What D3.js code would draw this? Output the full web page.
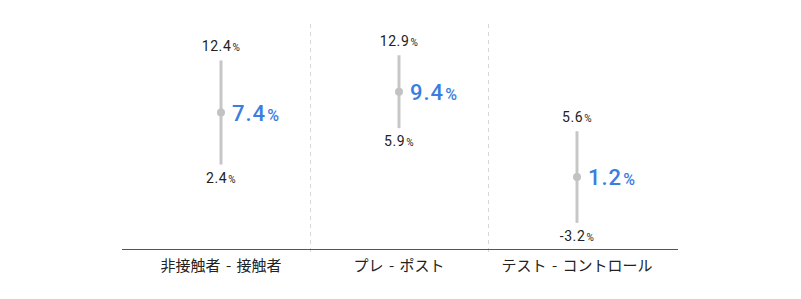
<!DOCTYPE html>
<html>
<head>
<meta charset="utf-8">
<script src="https://cdn.jsdelivr.net/npm/d3@7"></script>
<style>
  body { margin: 0; background: #fff; }
  text { font-family: Roboto, "Noto Sans", sans-serif; }
</style>
</head>
<body>
<div class="container"></div>
<script>
var categories = ['非接触者 - 接触者', 'プレ - ポスト', 'テスト - コントロール'];
var highs = [12.4, 12.9, 5.6];
var mids = [7.4, 9.4, 1.2];
var lows = [2.4, 5.9, -3.2];

var data = categories.map(function(c, i) {
  return { cat: c, high: highs[i], mid: mids[i], low: lows[i] };
});

var w = 801;
var h = 299;

var svg = d3.select('.container')
  .append('svg')
  .attr('width', w)
  .attr('height', h);

var xScale = d3.scaleBand()
  .domain(categories)
  .range([132, 666]);

var yScale = d3.scaleLinear()
  .domain([-6, 16])
  .range([252, 23]);

var axisY = 249;

/* dashed dividers between categories */
svg.selectAll('.divider')
  .data(categories.slice(1))
  .enter()
  .append('line')
  .attr('x1', function(d) { return Math.round(xScale(d)) + 0.5; })
  .attr('x2', function(d) { return Math.round(xScale(d)) + 0.5; })
  .attr('y1', 24)
  .attr('y2', 256)
  .attr('stroke', '#d8d8d8')
  .attr('stroke-dasharray', '4,4');

/* bottom axis */
var xAxis = d3.axisBottom(xScale).tickSize(0).tickPadding(11);
var ax = svg.append('g')
  .attr('transform', 'translate(0,' + axisY + ')')
  .call(xAxis);
ax.select('.domain').remove();
ax.selectAll('text')
  .style('font-family', '"Noto Sans CJK JP", sans-serif')
  .style('font-size', '15px')
  .style('word-spacing', '2px')
  .attr('fill', '#222');
svg.append('line')
  .attr('x1', 122).attr('x2', 678)
  .attr('y1', axisY + 0.5).attr('y2', axisY + 0.5)
  .attr('stroke', '#555');

var group = svg.selectAll('.item')
  .data(data)
  .enter()
  .append('g')
  .attr('transform', function(d) {
    return 'translate(' + (xScale(d.cat) + xScale.bandwidth() / 2) + ',0)';
  });

group.append('line')
  .attr('x1', 0).attr('x2', 0)
  .attr('y1', function(d) { return yScale(d.high); })
  .attr('y2', function(d) { return yScale(d.low); })
  .attr('stroke', '#c6c6c6')
  .attr('stroke-width', 3);

group.append('circle')
  .attr('cx', 0)
  .attr('cy', function(d) { return yScale(d.mid); })
  .attr('r', 4)
  .attr('fill', '#c2c2c4');

function pct(sel, v, big, small) {
  sel.append('tspan').text(v.toFixed(1)).style('font-size', big);
  sel.append('tspan').text('%').style('font-size', small).attr('dx', 1);
}

group.append('text')
  .attr('text-anchor', 'middle')
  .attr('y', function(d) { return yScale(d.high) - 9; })
  .attr('fill', '#222')
  .style('letter-spacing', '0.6px')
  .each(function(d) { pct(d3.select(this), d.high, '14px', '10px'); });

group.append('text')
  .attr('text-anchor', 'middle')
  .attr('y', function(d) { return yScale(d.low) + 18; })
  .attr('fill', '#222')
  .style('letter-spacing', '0.6px')
  .each(function(d) { pct(d3.select(this), d.low, '14px', '10px'); });

group.append('text')
  .attr('x', 11)
  .attr('y', function(d) { return yScale(d.mid) + 8; })
  .attr('fill', '#3b7de0')
  .attr('font-weight', 500)
  .style('letter-spacing', '1px')
  .each(function(d) { pct(d3.select(this), d.mid, '22px', '16px'); });
</script>
</body>
</html>
